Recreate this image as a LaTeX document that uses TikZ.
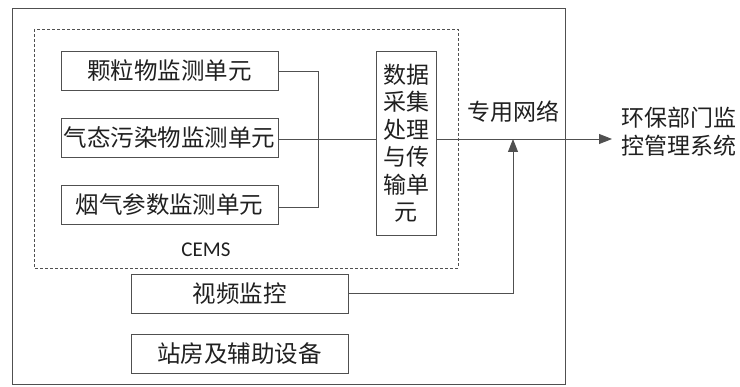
\documentclass[tikz,border=0pt]{standalone}
\usepackage{fontspec}
\setmainfont{Carlito}
\newfontfamily\cjk{Noto Sans CJK SC}
\usetikzlibrary{arrows.meta}
\definecolor{ln}{HTML}{505050}
\definecolor{tx}{HTML}{202020}
\begin{document}
\begin{tikzpicture}[x=1pt,y=-1pt,
  box/.style={draw=ln,line width=0.9pt,minimum height=39pt,inner sep=0pt,text=tx,font=\cjk\fontsize{23.5}{26}\selectfont},
  wire/.style={draw=ln,line width=0.9pt},
  lbl/.style={font=\cjk\fontsize{23}{28}\selectfont,align=left,inner sep=0pt,text=tx}]
\useasboundingbox (0,0) rectangle (740,387);
\draw[wire] (12,8) rectangle (565,384);
\draw[wire,dashed,dash pattern=on 3pt off 2pt,line width=0.7pt] (34,29) rectangle (458,268);
\node[font=\fontsize{21}{22}\selectfont,text=tx] (cems) at (206,250) {CEMS};
\node[box,minimum width=217pt] (b1) at (169.5,70.5) {颗粒物监测单元};
\node[box,minimum width=217pt] (b2) at (169.5,137.5) {气态污染物监测单元};
\node[box,minimum width=217pt] (b3) at (169.5,204.5) {烟气参数监测单元};
\node[box,minimum width=60pt,minimum height=184pt,align=center,font=\cjk\fontsize{23}{27.5}\selectfont] (dp) at (406,143) {数据\\采集\\处理\\与传\\输单\\元};
\node[box,minimum width=217pt] (v) at (239.5,293.5) {视频监控};
\node[box,minimum width=217pt] (s) at (239.5,353.5) {站房及辅助设备};
\node[lbl] (net) at (513,112) {专用网络};
\node[lbl,anchor=west] (epa) at (621,132) {环保部门监\\控管理系统};
\coordinate (tip) at (612,139);
\coordinate (up) at (513,139);
\draw[wire] (b1.east |- 0,71) -| (318,207) -- (b3.east |- 0,207);
\draw[wire] (b2.east |- 0,139) -- (dp.west |- 0,139);
\draw[wire,-{Triangle[length=13pt,width=10pt]}] (dp.east |- 0,139) -- (tip);
\draw[wire,-{Triangle[length=13pt,width=10pt]}] (v.east |- 0,293) -| (up);
\end{tikzpicture}
\end{document}
